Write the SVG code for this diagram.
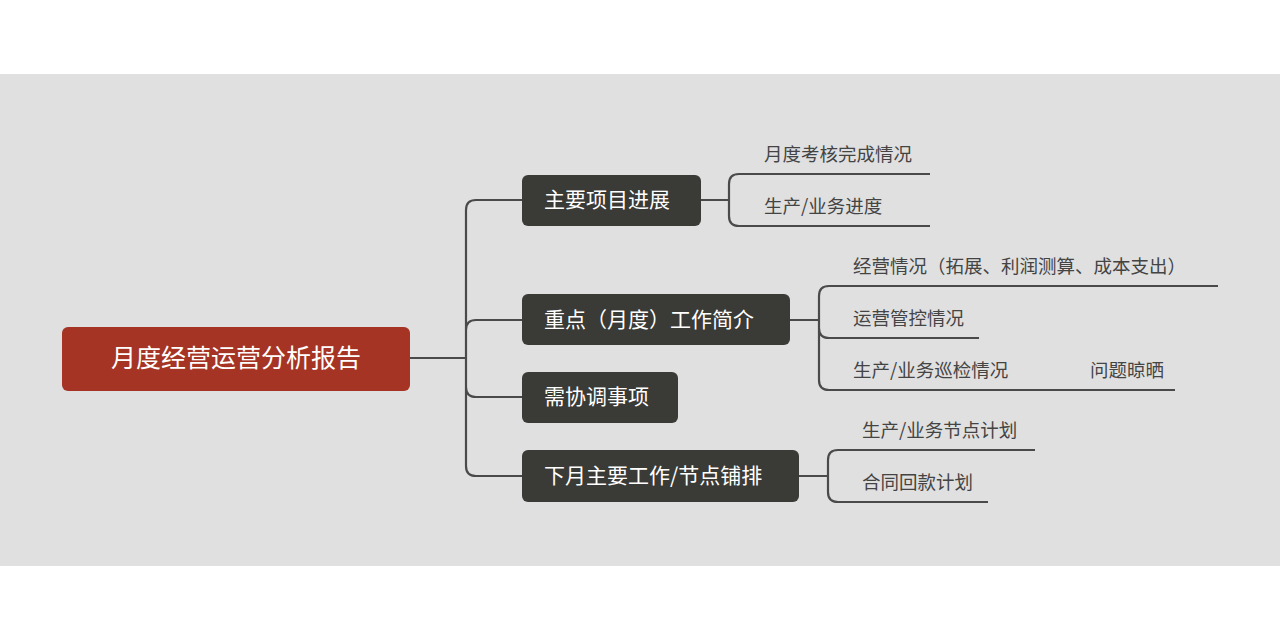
<svg xmlns="http://www.w3.org/2000/svg" width="1280" height="640" viewBox="0 0 1280 640">
<style>
.c{fill:none;stroke:#4a4a4a;stroke-width:2.2}
.b{fill:#3a3a36}
.bt{fill:#fff;font-family:"Noto Sans CJK SC","Noto Sans",sans-serif;font-size:21px}
.lt{fill:#444;font-family:"Noto Sans CJK SC","Noto Sans",sans-serif;font-size:18.5px}
</style>
<rect x="0" y="0" width="1280" height="640" fill="#fff"/>
<rect x="0" y="74" width="1280" height="492" fill="#e0e0e0"/>
<g id="connectors">
<path class="c" d="M410 358H466M522 200H476Q466 200 466 210V466Q466 476 476 476H522M466 330Q466 320 476 320H522M466 387Q466 397 476 397H522"/>
<path class="c" d="M701 200H729M930 174H739Q729 174 729 184V216Q729 226 739 226H930"/>
<path class="c" d="M790 320H819M1218 286H829Q819 286 819 296V380Q819 390 829 390H1175M819 328Q819 338 829 338H979"/>
<path class="c" d="M799 476H828M1035 450H838Q828 450 828 460V492Q828 502 838 502H988"/>
</g>
<g id="root"><rect x="62" y="327" width="348" height="64" rx="6" fill="#a63424"/><text x="236" y="367" text-anchor="middle" fill="#fff" font-family="'Noto Sans CJK SC','Noto Sans',sans-serif" font-size="25">月度经营运营分析报告</text></g>
<g id="n1"><rect class="b" x="522" y="175" width="179" height="51" rx="6"/><text class="bt" x="544" y="207">主要项目进展</text></g>
<g id="n2"><rect class="b" x="522" y="294" width="268" height="51" rx="6"/><text class="bt" x="544" y="327">重点（月度）工作简介</text></g>
<g id="n3"><rect class="b" x="522" y="372" width="156" height="51" rx="6"/><text class="bt" x="544" y="404">需协调事项</text></g>
<g id="n4"><rect class="b" x="522" y="450" width="277" height="52" rx="6"/><text class="bt" x="544" y="483">下月主要工作/节点铺排</text></g>
<g id="l1"><text class="lt" x="764" y="161">月度考核完成情况</text></g>
<g id="l2"><text class="lt" x="764" y="213">生产/业务进度</text></g>
<g id="l3"><text class="lt" x="853" y="273">经营情况（拓展、利润测算、成本支出）</text></g>
<g id="l4"><text class="lt" x="853" y="325">运营管控情况</text></g>
<g id="l5"><text class="lt" x="853" y="377">生产/业务巡检情况</text></g>
<g id="l6"><text class="lt" x="1090" y="377">问题晾晒</text></g>
<g id="l7"><text class="lt" x="862" y="437">生产/业务节点计划</text></g>
<g id="l8"><text class="lt" x="862" y="489">合同回款计划</text></g>
</svg>
